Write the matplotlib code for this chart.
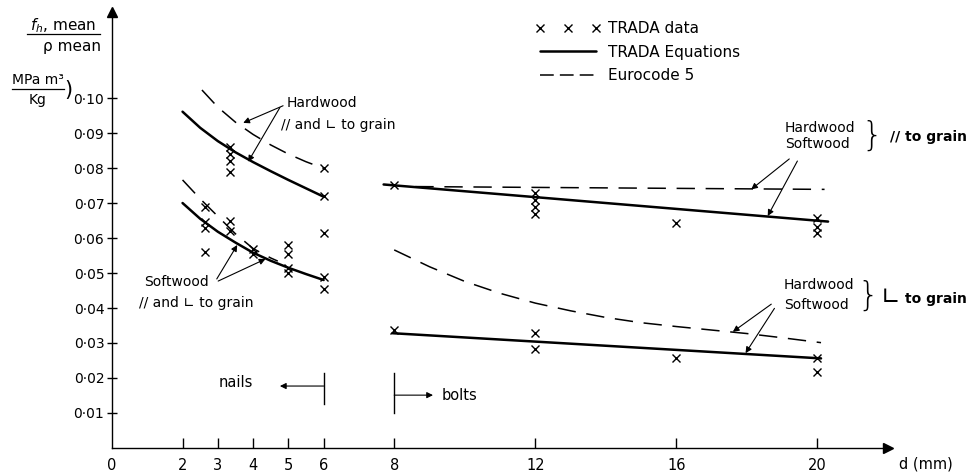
import matplotlib.pyplot as plt
from matplotlib.lines import Line2D

# --- data (d in mm, f_h/rho in MPa m3/kg) ---
x_ticks = [0, 2, 3, 4, 5, 6, 8, 12, 16, 20]
x_labels = ['0', '2', '3', '4', '5', '6', '8', '12', '16', '20']
y_ticks = [0.01, 0.02, 0.03, 0.04, 0.05, 0.06, 0.07, 0.08, 0.09, 0.10]
y_labels = ['0·01', '0·02', '0·03', '0·04', '0·05', '0·06', '0·07', '0·08', '0·09', '0·10']

# TRADA data points
nail_d = [3.35, 3.35, 3.35, 3.35, 6, 6,
          2.65, 2.65, 2.65, 2.65, 3.35, 3.35, 4, 4, 5, 5, 5, 5, 6, 6, 6]
nail_v = [0.086, 0.084, 0.082, 0.079, 0.080, 0.072,
          0.069, 0.0645, 0.063, 0.056, 0.065, 0.062, 0.057, 0.0555,
          0.058, 0.0555, 0.0515, 0.050, 0.0615, 0.049, 0.0455]
bolt_d = [8, 12, 12, 12, 12, 16, 20, 20, 20,
          8, 12, 12, 16, 20, 20]
bolt_v = [0.0751, 0.073, 0.071, 0.069, 0.067, 0.0642, 0.0656, 0.0632, 0.0613,
          0.0337, 0.0328, 0.0282, 0.0256, 0.0256, 0.0218]

# nails, TRADA equations / Eurocode 5
nail_eq_d = [2, 2.5, 3, 3.5, 4, 4.5, 5, 5.5, 6]
hw_nail_eq = [0.0961, 0.0915, 0.0877, 0.0845, 0.0817, 0.0791, 0.0766, 0.0742, 0.0718]
sw_nail_eq = [0.0700, 0.0655, 0.0618, 0.0587, 0.0558, 0.0535, 0.0515, 0.0497, 0.0480]
hw_nail_ec_d = [2.55, 3, 3.5, 4, 4.5, 5, 5.5, 6]
hw_nail_ec = [0.1023, 0.0974, 0.0931, 0.0896, 0.0866, 0.0840, 0.0818, 0.0799]
sw_nail_ec_d = [2, 2.5, 3, 3.5, 4, 4.5, 4.7]
sw_nail_ec = [0.0766, 0.0712, 0.0662, 0.0612, 0.0570, 0.0543, 0.0534]

# bolts
par_eq_d = [7.7, 20.3]
par_eq = [0.0753, 0.0647]
par_ec_d = [8.6, 20.2]
par_ec = [0.0747, 0.0739]
perp_eq_d = [7.95, 20.1]
perp_eq = [0.0328, 0.0256]
perp_ec_d = [8, 9, 10, 11, 12, 13, 14, 15, 16, 17, 18, 19, 20.1]
perp_ec = [0.0566, 0.0518, 0.0476, 0.0442, 0.0414, 0.0392, 0.0373, 0.0358,
           0.0347, 0.0337, 0.0327, 0.0315, 0.0301]

plt.rcParams['font.family'] = ['DejaVu Sans']

fig = plt.figure(figsize=(9.68, 4.73), dpi=100)
ax = fig.add_axes([0.1157, 0.0529, 0.8017, 0.9218])

solid = dict(color='k', lw=1.8, solid_capstyle='round')
dash = dict(color='k', lw=1.1, dashes=(12, 7))
mk = dict(ls='none', marker='x', color='k', ms=5.5, mew=1.0)

ax.plot(nail_eq_d, hw_nail_eq, **solid)
ax.plot(nail_eq_d, sw_nail_eq, **solid)
ax.plot(hw_nail_ec_d, hw_nail_ec, **dash)
ax.plot(sw_nail_ec_d, sw_nail_ec, **dash)
ax.plot(par_eq_d, par_eq, **solid)
ax.plot(perp_eq_d, perp_eq, **solid)
ax.plot(par_ec_d, par_ec, **dash)
ax.plot(perp_ec_d, perp_ec, **dash)
ax.plot(nail_d, nail_v, **mk)
ax.plot(bolt_d, bolt_v, **mk)

ax.set_xlim(0, 22)
ax.set_ylim(0, 0.1246)
for s in ['top', 'right']:
    ax.spines[s].set_visible(False)
for s in ['left', 'bottom']:
    ax.spines[s].set_linewidth(1.0)
ax.plot(0, 1, '^k', ms=7, transform=ax.transAxes, clip_on=False)
ax.plot(1, 0, '>k', ms=7, transform=ax.transAxes, clip_on=False)

ax.set_xticks(x_ticks, x_labels, fontsize=10.5)
ax.set_yticks(y_ticks, y_labels, fontsize=10)
ax.tick_params(axis='x', direction='in', length=7, width=1, pad=7)
ax.tick_params(axis='y', direction='inout', length=7, width=1, pad=2)
ax.xaxis.get_major_ticks()[0].tick1line.set_visible(False)
ax.text(22.3, -0.0045, 'd (mm)', fontsize=10.5, ha='left', va='center', clip_on=False)

# legend
handles = [Line2D([], [], **mk),
           Line2D([], [], **solid),
           Line2D([], [], color='k', lw=1.1, dashes=(9, 4))]
ax.legend(handles, ['TRADA data', 'TRADA Equations', 'Eurocode 5'],
          loc='upper left', bbox_to_anchor=(0.545, 0.979), frameon=False,
          fontsize=11, numpoints=3, handlelength=4.3, handletextpad=0.45,
          labelspacing=0.55, borderpad=0, borderaxespad=0)

# y label (fraction style)
fig.text(63 / 968, 1 - 26 / 473, r'$f_h$, mean', fontsize=11, ha='center', va='center')
fig.add_artist(Line2D([27 / 968, 100 / 968], [1 - 34 / 473, 1 - 34 / 473], color='k', lw=0.9))
fig.text(72 / 968, 1 - 47 / 473, 'ρ mean', fontsize=11, ha='center', va='center')
fig.text(38 / 968, 1 - 80 / 473, 'MPa m³', fontsize=10, ha='center', va='center')
fig.add_artist(Line2D([12 / 968, 64 / 968], [1 - 89 / 473, 1 - 89 / 473], color='k', lw=0.9))
fig.text(38 / 968, 1 - 100 / 473, 'Kg', fontsize=10, ha='center', va='center')
fig.text(68 / 968, 1 - 90 / 473, ')', fontsize=15, ha='center', va='center')

arr = dict(arrowstyle='-|>', lw=0.8, color='k', mutation_scale=9, shrinkA=0, shrinkB=0)

# hardwood nails
ax.text(4.95, 0.0986, 'Hardwood', fontsize=10, va='center')
ax.text(4.8, 0.0923, '// and ∟ to grain', fontsize=10, va='center')
ax.annotate('', xy=(3.72, 0.0929), xytext=(4.85, 0.0978), arrowprops=arr)
ax.annotate('', xy=(3.86, 0.0818), xytext=(4.76, 0.0973), arrowprops=arr)

# softwood nails
ax.text(0.9, 0.0475, 'Softwood', fontsize=10, va='center')
ax.text(0.77, 0.0413, '// and ∟ to grain', fontsize=10, va='center')
ax.annotate('', xy=(3.55, 0.0580), xytext=(2.97, 0.0483), arrowprops=arr)
ax.annotate('', xy=(4.35, 0.0540), xytext=(3.01, 0.0477), arrowprops=arr)

# bolts parallel
ax.text(19.07, 0.0913, 'Hardwood', fontsize=10, va='center')
ax.text(19.07, 0.0869, 'Softwood', fontsize=10, va='center')
ax.text(21.55, 0.0891, '}', fontsize=24, fontweight='light', ha='center', va='center', clip_on=False)
ax.text(22.06, 0.0890, '// to grain', fontsize=10, fontweight='bold', va='center', clip_on=False)
ax.annotate('', xy=(18.12, 0.0739), xytext=(19.2, 0.0826), arrowprops=arr)
ax.annotate('', xy=(18.59, 0.0663), xytext=(19.43, 0.0820), arrowprops=arr)

# bolts perpendicular
ax.text(19.05, 0.0466, 'Hardwood', fontsize=10, va='center')
ax.text(19.05, 0.0409, 'Softwood', fontsize=10, va='center')
ax.text(21.42, 0.0434, '}', fontsize=24, fontweight='light', ha='center', va='center', clip_on=False)
ax.text(21.78, 0.0432, '∟', fontsize=17, va='center', clip_on=False)
ax.text(22.47, 0.0426, 'to grain', fontsize=10, fontweight='bold', va='center', clip_on=False)
ax.annotate('', xy=(17.6, 0.0332), xytext=(18.69, 0.0411), arrowprops=arr)
ax.annotate('', xy=(17.96, 0.0271), xytext=(18.78, 0.0399), arrowprops=arr)

# nails / bolts ranges
ax.plot([6, 6], [0.0126, 0.0214], color='k', lw=1)
ax.annotate('', xy=(4.76, 0.0177), xytext=(6, 0.0177), arrowprops=arr)
ax.text(3.5, 0.0187, 'nails', fontsize=10.5, ha='center', va='center')
ax.plot([8, 8], [0.0101, 0.0214], color='k', lw=1)
ax.annotate('', xy=(9.1, 0.0151), xytext=(8, 0.0151), arrowprops=arr)
ax.text(9.34, 0.0151, 'bolts', fontsize=10.5, va='center')

fig.savefig('out.png', dpi=100)
